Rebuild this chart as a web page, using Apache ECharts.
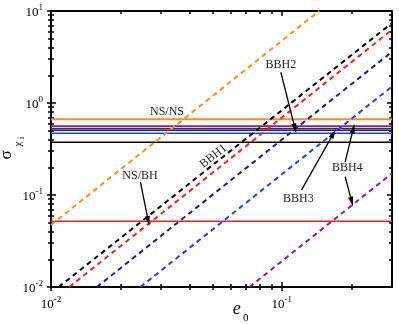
<!DOCTYPE html>
<html><head><meta charset="utf-8">
<script src="https://cdn.jsdelivr.net/npm/echarts@6/dist/echarts.min.js"></script>
<style>html,body{margin:0;padding:0;background:#fff}#c{width:399px;height:324px}</style>
</head><body><div id="c"></div>
<script>
// ---- data ----
const eRange = [0.01, 0.3];
const sRange = [0.01, 10];
const xMajorTicks = [0.01, 0.1];
const xMinorTicks = [0.02,0.03,0.04,0.05,0.06,0.07,0.08,0.09,0.2];
const yMajorTicks = [0.01, 0.1, 1, 10];
const yMinorTicks = [0.02,0.03,0.04,0.05,0.06,0.07,0.08,0.09,0.2,0.3,0.4,0.5,0.6,0.7,0.8,0.9,2,3,4,5,6,7,8,9];
// horizontal levels (sigma)
const levelNames  = ['NS/NS', 'BBH4', 'BBHx', 'BBH2', 'BBH3', 'BBH1', 'NS/BH'];
const levelValues = [0.667, 0.56, 0.526, 0.507, 0.47, 0.375, 0.052];
// dashed curves: [e0, sigma] start & end
const curveNames = ['NS/NS', 'BBH1', 'NS/BH', 'BBH2', 'BBH3', 'BBH4'];
const curveStart = [[0.01, 0.0473], [0.0108, 0.01], [0.012, 0.01], [0.0158, 0.01], [0.0244, 0.01], [0.0724, 0.01]];
const curveEnd   = [[0.145, 10], [0.3, 7.4], [0.3, 6.25], [0.3, 3.6], [0.3, 1.51], [0.3, 0.172]];
// annotations (data coords)
const labelTexts = ['NS/NS', 'NS/BH', 'BBH1', 'BBH2', 'BBH3', 'BBH4'];
const labelAt    = [[0.0318, 0.794], [0.0243, 0.160], [0.0505, 0.264], [0.099, 2.57], [0.118, 0.090], [0.192, 0.196]];
const arrowFrom  = [[0.0244, 0.138], [0.099, 2.16], [0.1216, 0.113], [0.188, 0.229], [0.188, 0.158]];
const arrowTo    = [[0.0264, 0.052], [0.114, 0.528], [0.1675, 0.467], [0.204, 0.528], [0.201, 0.0843]];

// ---- styles ----
const levelColors = ['#ff8c1a', '#8e1f8e', '#333333', '#1a1a8c', '#1f3fff', '#000000', '#ff1a1a'];
const levelWidths = [2, 2, 1.2, 1.5, 1.5, 1.5, 1.5];
const curveColors = ['#ff8c1a', '#000000', '#ff1a1a', '#1a1a8c', '#1f3fff', '#8e1f8e'];
const serif = '"Liberation Serif", "DejaVu Serif", serif';

const chart = echarts.init(document.getElementById('c'));
const rich = {
  b: {fontFamily: serif, fontSize: 13, color: '#000', lineHeight: 16, verticalAlign: 'bottom'},
  s: {fontFamily: serif, fontSize: 9, color: '#000', lineHeight: 16, verticalAlign: 'top', padding: [0,0,0,0]}
};
function fmt(v){ const e = Math.round(Math.log10(v)); return '{b|10}{s|' + e + '}'; }

function axisCfg(type, pos, opts){
  const base = {
    type: 'log', logBase: 10, position: pos,
    min: type === 'x' ? eRange[0] : sRange[0],
    max: type === 'x' ? eRange[1] : sRange[1],
    axisLine: {show: false, onZero: false, lineStyle: {color: '#000', width: 2}},
    axisTick: {show: true, inside: true, length: 4, lineStyle: {color: '#000', width: 1.5}},
    axisLabel: {show: false},
    splitLine: {show: false},
    minorTick: {show: false},
    splitNumber: 10
  };
  return Object.assign(base, opts);
}
const majX = xMajorTicks, minX = xMinorTicks, majY = yMajorTicks, minY = yMinorTicks;

const xAxes = [
  axisCfg('x','bottom',{
    axisLine: {show: true, onZero: false, lineStyle: {color: '#000', width: 2}},
    axisTick: {show: true, inside: false, length: 4, customValues: majX, lineStyle: {color:'#000', width: 1.5}},
    axisLabel: {show: true, customValues: majX, formatter: fmt, rich: rich, margin: 8}
  }),
  axisCfg('x','bottom',{axisTick: {show: true, inside: true, length: 5, customValues: majX, lineStyle:{color:'#000', width:1.5}}}),
  axisCfg('x','bottom',{axisTick: {show: true, inside: false, length: 3, customValues: minX, lineStyle:{color:'#000', width:1.5}}}),
  axisCfg('x','bottom',{axisTick: {show: true, inside: true, length: 3, customValues: minX, lineStyle:{color:'#000', width:1.5}}}),
  axisCfg('x','top',{
    axisLine: {show: true, onZero: false, lineStyle: {color: '#000', width: 2}},
    axisTick: {show: true, inside: true, length: 5, customValues: majX, lineStyle:{color:'#000', width:1.5}}}),
  axisCfg('x','top',{axisTick: {show: true, inside: true, length: 3, customValues: minX, lineStyle:{color:'#000', width:1.5}}})
];
const yAxes = [
  axisCfg('y','left',{
    axisLine: {show: true, onZero: false, lineStyle: {color: '#000', width: 2}},
    axisTick: {show: true, inside: false, length: 4, customValues: majY, lineStyle:{color:'#000', width:1.5}},
    axisLabel: {show: true, customValues: majY, formatter: fmt, rich: rich, margin: 8}
  }),
  axisCfg('y','left',{axisTick: {show: true, inside: true, length: 5, customValues: majY, lineStyle:{color:'#000', width:1.5}}}),
  axisCfg('y','left',{axisTick: {show: true, inside: false, length: 3, customValues: minY, lineStyle:{color:'#000', width:1.5}}}),
  axisCfg('y','left',{axisTick: {show: true, inside: true, length: 3, customValues: minY, lineStyle:{color:'#000', width:1.5}}}),
  axisCfg('y','right',{
    axisLine: {show: true, onZero: false, lineStyle: {color: '#000', width: 2}},
    axisTick: {show: true, inside: true, length: 5, customValues: majY, lineStyle:{color:'#000', width:1.5}}}),
  axisCfg('y','right',{axisTick: {show: true, inside: true, length: 3, customValues: minY, lineStyle:{color:'#000', width:1.5}}})
];

const series = [];
levelValues.forEach((v, i) => {
  series.push({
    type: 'line', name: levelNames[i], xAxisIndex: 0, yAxisIndex: 0,
    data: [[eRange[0], v], [eRange[1], v]], showSymbol: false, symbol: 'none', silent: true,
    lineStyle: {color: levelColors[i], width: levelWidths[i]}, z: 3
  });
});
curveStart.forEach((p, i) => {
  series.push({
    type: 'line', name: curveNames[i] + ' curve', xAxisIndex: 0, yAxisIndex: 0,
    data: [p, curveEnd[i]], showSymbol: false, symbol: 'none', silent: true,
    lineStyle: {color: curveColors[i], width: 2, type: [5, 4]}, z: 4
  });
});
series.push({
  type: 'line', name: 'arrows', xAxisIndex: 0, yAxisIndex: 0, data: [], silent: true,
  markLine: {
    silent: true, animation: false, symbol: ['none', 'triangle'], symbolSize: [5, 10],
    label: {show: false},
    lineStyle: {color: '#000', width: 1.3, type: 'solid'},
    emphasis: {disabled: true},
    data: arrowFrom.map((f, i) => [{coord: f}, {coord: arrowTo[i]}])
  }, z: 6
});

chart.setOption({
  animation: false,
  grid: {left: 51, right: 7, top: 11, bottom: 37, containLabel: false, outerBoundsMode: 'none'},
  xAxis: xAxes, yAxis: yAxes, series: series
});

const rotations = [0, 0, 38, 0, 0, 0];
const graphics = labelTexts.map((t, i) => {
  const p = chart.convertToPixel({xAxisIndex: 0, yAxisIndex: 0}, labelAt[i]);
  return {
    type: 'text', x: p[0], y: p[1], rotation: rotations[i] * Math.PI / 180, z: 10,
    style: {text: t, font: '12px ' + serif, fill: '#222', align: 'center', verticalAlign: 'middle'}
  };
});
// axis titles placed relative to the plot rectangle
const p0 = chart.convertToPixel({xAxisIndex: 0, yAxisIndex: 0}, [eRange[0], sRange[0]]);
const p1 = chart.convertToPixel({xAxisIndex: 0, yAxisIndex: 0}, [eRange[1], sRange[1]]);
const L = p0[0], B = p0[1], R = p1[0], T = p1[1];
const cx = L + 0.545 * (R - L), cy = (T + B) / 2;
graphics.push(
  {type: 'text', x: cx, y: B + 22, z: 10,
   style: {text: 'e', font: 'italic 18px ' + serif, fill: '#000', align: 'center', verticalAlign: 'middle'}},
  {type: 'text', x: cx + 9, y: B + 31, z: 10,
   style: {text: '0', font: '11px ' + serif, fill: '#000', align: 'center', verticalAlign: 'middle'}},
  {type: 'text', x: L - 44, y: cy + 6, rotation: Math.PI / 2, z: 10,
   style: {text: 'σ', font: '17px ' + serif, fill: '#000', align: 'center', verticalAlign: 'middle'}},
  {type: 'text', x: L - 33, y: cy - 5, rotation: Math.PI / 2, z: 10,
   style: {text: 'χ', font: '11px ' + serif, fill: '#000', align: 'center', verticalAlign: 'middle'}},
  {type: 'text', x: L - 29, y: cy - 11, rotation: Math.PI / 2, z: 10,
   style: {text: 'i', font: '8px ' + serif, fill: '#000', align: 'center', verticalAlign: 'middle'}}
);
chart.setOption({graphic: graphics});
</script></body></html>
